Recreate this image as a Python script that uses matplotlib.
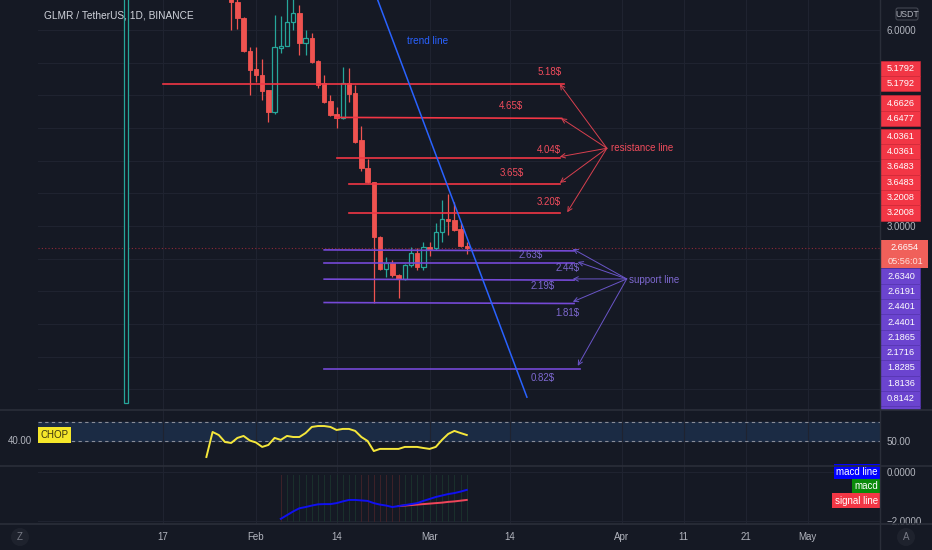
import matplotlib
matplotlib.use('Agg')
import matplotlib.pyplot as plt
from matplotlib.patches import Rectangle, Circle, FancyBboxPatch
from matplotlib.transforms import blended_transform_factory

plt.rcParams['font.family'] = ['Liberation Sans', 'DejaVu Sans']

W, H = 932, 550
BG = '#151924'
GRID = '#1f2330'
SEP = '#2a2e39'
TXT = '#b2b5be'
UP = '#26a69a'
DOWN = '#ef5350'
RES = '#f23645'
SUP = '#7549d6'

# daily candles, day index = days since 1 Jan 2022
candle_days = [10] + list(range(27, 66))
opens = [0.29, 6.80, 6.43, 6.18, 5.68, 5.40, 5.31, 5.08, 4.74, 5.73, 5.76, 6.12, 6.26, 5.80, 5.88,
         5.53, 5.19, 4.91, 4.71, 4.65, 5.19, 5.04, 4.32, 3.89, 3.67, 2.83, 2.34, 2.43, 2.25, 2.19,
         2.40, 2.59, 2.37, 2.68, 2.66, 2.91, 3.11, 3.09, 2.95, 2.69]
highs = [19.5, 7.00, 6.60, 6.20, 5.74, 5.74, 5.56, 5.08, 6.23, 6.21, 6.60, 6.55, 6.38, 6.00, 5.95,
         5.54, 5.31, 5.00, 4.82, 5.43, 5.42, 5.16, 4.53, 4.03, 3.68, 2.85, 2.52, 2.48, 2.27, 2.42,
         2.68, 2.66, 2.76, 2.76, 3.05, 3.40, 3.49, 3.37, 3.05, 2.76]
lows = [0.29, 6.00, 6.02, 5.66, 5.00, 5.20, 4.93, 4.59, 4.72, 5.65, 5.75, 6.00, 5.62, 5.62, 5.50,
        5.11, 4.89, 4.69, 4.50, 4.64, 4.90, 4.27, 3.84, 3.66, 1.82, 2.33, 2.22, 2.22, 1.90, 2.17,
        2.37, 2.33, 2.33, 2.54, 2.63, 2.76, 2.86, 2.93, 2.68, 2.57]
closes = [10.5, 6.43, 6.18, 5.68, 5.39, 5.31, 5.07, 4.74, 5.74, 5.76, 6.12, 6.26, 5.80, 5.88, 5.51,
          5.16, 4.90, 4.70, 4.65, 5.19, 5.02, 4.29, 3.89, 3.67, 2.83, 2.34, 2.43, 2.25, 2.19, 2.40,
          2.59, 2.37, 2.68, 2.65, 2.91, 3.11, 3.08, 2.94, 2.69, 2.6654]
last_price = 2.6654
countdown = '05:56:01'

# drawn horizontal lines (start day, end day, start price, end price)
res_days = [(16, 80.7), (43.8, 80.3), (44.0, 80.0), (46.0, 80.0), (46.0, 80.0)]
res_prices = [(5.1792, 5.1792), (4.6626, 4.6477), (4.0361, 4.0361), (3.6483, 3.6483), (3.2008, 3.2008)]
sup_days = [(42.0, 82.3), (42.0, 82.3), (42.0, 82.3), (42.0, 82.3), (42.0, 83.3)]
sup_prices = [(2.6340, 2.6191), (2.4401, 2.4401), (2.1865, 2.1716), (1.8285, 1.8136), (0.8142, 0.8142)]

res_labels = ['5.18$', '4.65$', '4.04$', '3.65$', '3.20$']
res_label_pos = [(78.4, 5.35), (72.2, 4.84), (78.3, 4.17), (72.2, 3.81), (78.3, 3.36)]
sup_labels = ['2.63$', '2.44$', '2.19$', '1.81$', '0.82$']
sup_label_pos = [(75.3, 2.56), (81.3, 2.35), (77.3, 2.08), (81.3, 1.67), (77.2, 0.68)]

res_note = (88.25, 4.19)
res_arrow_from = (87.6, 4.19)
res_arrow_to = [(80.0, 5.17), (80.2, 4.65), (80.0, 4.06), (80.0, 3.66), (81.2, 3.21)]
sup_note = (91.2, 2.18)
sup_arrow_from = (90.8, 2.19)
sup_arrow_to = [(82.1, 2.65), (82.9, 2.45), (82.1, 2.19), (82.1, 1.84), (82.9, 0.86)]

trend_days = [49.4, 74.7]
trend_prices = [6.77, 0.38]
trend_note = (55.3, 5.83)

# indicators
chop_days = list(range(23, 66))
chop = [39.5, 55.9, 53.9, 49.3, 48.7, 52.0, 53.3, 50.3, 49.0, 46.1, 47.4, 52.0, 50.7, 53.3, 52.6,
        52.6, 55.2, 59.2, 59.8, 59.8, 59.2, 57.2, 57.9, 57.9, 56.6, 52.6, 50.0, 43.4, 44.8, 44.8,
        44.8, 44.8, 46.1, 46.1, 46.1, 45.4, 44.8, 46.1, 50.7, 54.6, 56.6, 55.2, 53.9]
chop_bands = [50.0, 62.5]

macd_days = list(range(35, 66))
macd = [-1.91, -1.76, -1.61, -1.48, -1.43, -1.37, -1.32, -1.31, -1.31, -1.27, -1.20, -1.14, -1.14,
        -1.16, -1.18, -1.27, -1.33, -1.37, -1.43, -1.39, -1.35, -1.31, -1.27, -1.18, -1.10, -1.02,
        -0.96, -0.90, -0.86, -0.80, -0.73]
signal_days = list(range(54, 66))
signal = [-1.39, -1.37, -1.35, -1.33, -1.31, -1.29, -1.27, -1.25, -1.22, -1.20, -1.17, -1.14]
hist_side = ['r'] + ['g'] * 12 + ['r'] * 7 + ['g'] * 11

tick_days = [16, 31, 44, 59, 72, 90, 100, 110, 120]
tick_labels = ['17', 'Feb', '14', 'Mar', '14', 'Apr', '11', '21', 'May']
price_ticks = [0.5, 1.0, 1.5, 2.0, 2.5, 3.0, 3.5, 4.0, 4.5, 5.0, 5.5, 6.0]
macd_ticks = [0.0, -2.0]


def rect(l, t, r, b):
    return [l / W, 1 - b / H, (r - l) / W, (b - t) / H]


fig = plt.figure(figsize=(W / 100, H / 100), dpi=100, facecolor=BG)
ax = fig.add_axes(rect(38, 0, 880, 410))
ax_chop = fig.add_axes(rect(38, 410, 880, 466))
ax_macd = fig.add_axes(rect(38, 466, 880, 524))
xlim = (-4.16, 131.65)

for a in (ax, ax_chop, ax_macd):
    a.set_facecolor(BG)
    a.set_xlim(*xlim)
    for s in a.spines.values():
        s.set_visible(False)
    a.set_xticks(tick_days)
    a.xaxis.grid(True, color=GRID, lw=0.8)
    a.set_axisbelow(True)
    a.tick_params(axis='x', length=0, labelbottom=False)
    a.yaxis.tick_right()
    a.tick_params(axis='y', length=0, pad=5, labelsize=7, labelcolor=TXT)

# ---- main pane ----
ax.set_ylim(0.1836, 6.4594)
ppu = 410 / (ax.get_ylim()[1] - ax.get_ylim()[0])

# price scale label stacking (TradingView pushes labels away from the last price)
h = 15.3 / ppu
cur_top = last_price + 7.6 / ppu
cur_bot = last_price - 20.6 / ppu
res_boxes, sup_boxes = [], []
limit = cur_top
for p in sorted([p for pair in res_prices for p in pair]):
    c = max(p, limit + h / 2)
    limit = c + h / 2
    res_boxes.append((p, c))
limit = cur_bot
for p in sorted([p for pair in sup_prices for p in pair], reverse=True):
    c = min(p, limit - h / 2)
    limit = c - h / 2
    sup_boxes.append((p, c))
spans = [(c - h / 2, c + h / 2) for _, c in res_boxes + sup_boxes] + [(cur_bot, cur_top)]
margin = 4 / ppu


def covered(v):
    return any(lo - margin <= v <= hi + margin for lo, hi in spans)


ax.set_yticks(price_ticks, ['' if covered(v) else f'{v:.4f}' for v in price_ticks])
ax.yaxis.grid(True, color=GRID, lw=0.8)

bw = 0.7
for d, o, hi, lo, c in zip(candle_days, opens, highs, lows, closes):
    top, bot = max(o, c), min(o, c)
    if c >= o:
        ax.vlines(d, top, hi, color=UP, lw=0.9, zorder=2)
        ax.vlines(d, lo, bot, color=UP, lw=0.9, zorder=2)
        ax.add_patch(Rectangle((d - bw / 2, bot), bw, top - bot, facecolor=BG,
                               edgecolor=UP, lw=0.9, zorder=3))
    else:
        ax.vlines(d, lo, hi, color=DOWN, lw=0.9, zorder=2)
        ax.add_patch(Rectangle((d - bw / 2, bot), bw, top - bot, facecolor=DOWN,
                               edgecolor=DOWN, lw=0.6, zorder=3))

ax.axhline(last_price, color=RES, alpha=0.55, lw=0.8, ls=(0, (1, 2)), zorder=1)

for (d0, d1), (p0, p1) in zip(res_days, res_prices):
    ax.plot([d0, d1], [p0, p1], color=RES, lw=1.2, zorder=4)
for (d0, d1), (p0, p1) in zip(sup_days, sup_prices):
    ax.plot([d0, d1], [p0, p1], color=SUP, lw=1.2, zorder=4)
ax.plot(trend_days, trend_prices, color='#2962ff', lw=1.1, zorder=5)

for lab, (d, p) in zip(res_labels, res_label_pos):
    ax.text(d, p, lab, color='#f04c5c', fontsize=7, ha='center', va='center', zorder=6)
for lab, (d, p) in zip(sup_labels, sup_label_pos):
    ax.text(d, p, lab, color='#7d68cf', fontsize=7, ha='center', va='center', zorder=6)

for tgt in res_arrow_to:
    ax.annotate('', xy=tgt, xytext=res_arrow_from,
                arrowprops=dict(arrowstyle='->', color='#d8404f', lw=0.7,
                                shrinkA=0, shrinkB=0, mutation_scale=8), zorder=6)
for tgt in sup_arrow_to:
    ax.annotate('', xy=tgt, xytext=sup_arrow_from,
                arrowprops=dict(arrowstyle='->', color='#6a55c8', lw=0.7,
                                shrinkA=0, shrinkB=0, mutation_scale=8), zorder=6)
ax.text(*res_note, 'resistance line', color='#f04c5c', fontsize=7, ha='left', va='center')
ax.text(*sup_note, 'support line', color='#7d68cf', fontsize=7, ha='left', va='center')
ax.text(*trend_note, 'trend line', color='#2962ff', fontsize=7.2, ha='left', va='center')

# ---- price scale labels ----
sc = fig.add_axes(rect(880, 0, 932, 410))
sc.patch.set_visible(False)
sc.axis('off')
sc.set_xlim(0, 52)
sc.set_ylim(ax.get_ylim())
fs_box = 6.6
for p, c in res_boxes:
    sc.add_patch(Rectangle((0, c - h / 2), 40, h, facecolor=RES, edgecolor='#d92a3a', lw=0.4))
    sc.text(21, c, f'{p:.4f}', color='white', fontsize=fs_box, ha='center', va='center')
for p, c in sup_boxes:
    sc.add_patch(Rectangle((0, c - h / 2), 40, h, facecolor='#6b44cf', edgecolor='#5a36b8', lw=0.4))
    sc.text(21, c, f'{p:.4f}', color='white', fontsize=fs_box, ha='center', va='center', clip_on=True)

sc.add_patch(Rectangle((0, cur_bot), 48, cur_top - cur_bot, facecolor='#f0605a', edgecolor='none'))
sc.text(24, last_price + 0.5 / ppu, f'{last_price:.4f}', color='white', fontsize=fs_box,
        ha='center', va='center')
sc.text(25, last_price - 13.5 / ppu, countdown, color='#ffe0dc', fontsize=fs_box,
        ha='center', va='center')

# ---- CHOP pane ----
ax_chop.set_ylim(33.6, 70.3)
ax_chop.set_yticks([50], ['50.00'])
ax_chop.axhspan(chop_bands[0], chop_bands[1], color='#1b2b44', zorder=0)
for b in chop_bands:
    ax_chop.axhline(b, color='#8a8d98', lw=0.8, ls=(0, (3, 3)), zorder=1)
ax_chop.plot(chop_days, chop, color='#f5e73b', lw=1.4, zorder=3)
tr = blended_transform_factory(ax_chop.transAxes, ax_chop.transData)
ax_chop.text(2.6 / 842, 53.9, 'CHOP', transform=tr, color='#3a3410', fontsize=7, ha='left',
             va='center', bbox=dict(boxstyle='square,pad=0.28', facecolor='#f5e72a', edgecolor='none'))

# ---- MACD pane ----
ax_macd.set_ylim(-2.122, 0.245)
ax_macd.set_yticks(macd_ticks, [f'{v:.4f}'.replace('-', '\u2212') for v in macd_ticks])
ax_macd.yaxis.grid(True, color=GRID, lw=0.8)
trm = blended_transform_factory(ax_macd.transData, ax_macd.transAxes)
for d, s in zip(macd_days, hist_side):
    ax_macd.plot([d, d], [0.06, 0.84], transform=trm, lw=0.7,
                 color='#3e2229' if s == 'r' else '#1b302d', zorder=1)
ax_macd.plot(signal_days, signal, color='#f0455a', lw=1.4, zorder=2)
ax_macd.plot(macd_days, macd, color='#1010f0', lw=1.4, zorder=3)
tra = blended_transform_factory(ax_macd.transAxes, ax_macd.transAxes)
for lab, yy, col in [('macd line', 0.90, '#0000ff'), ('macd', 0.655, '#0a8a0a'), ('signal line', 0.40, '#f23645')]:
    ax_macd.text(1 - 2.2 / 842, yy, lab, transform=tra, color='white', fontsize=7, ha='right',
                 va='center', bbox=dict(boxstyle='square,pad=0.25', facecolor=col, edgecolor='none'))

ax_macd.tick_params(axis='x', labelbottom=True, pad=6, labelsize=7, labelcolor=TXT)
ax_macd.set_xticks(tick_days, tick_labels)

# ---- frame, separators, buttons ----
ov = fig.add_axes([0, 0, 1, 1])
ov.patch.set_visible(False)
ov.axis('off')
ov.set_xlim(0, W)
ov.set_ylim(H, 0)
for yy in (410, 466, 524):
    ov.plot([0, W], [yy, yy], color=SEP, lw=1.2)
ov.plot([880, 880], [0, H], color=SEP, lw=1.0)
ov.text(44, 15, 'GLMR / TetherUS, 1D, BINANCE', color='#d1d4dc', fontsize=7.3, ha='left', va='center')
ov.add_patch(FancyBboxPatch((896, 8), 22, 12, boxstyle='round,pad=0,rounding_size=2',
                            facecolor=BG, edgecolor='#434651', lw=0.8))
ov.text(907, 14.3, 'USDT', color=TXT, fontsize=6.3, ha='center', va='center')
ov.text(20, 441, '40.00', color=TXT, fontsize=7, ha='center', va='center')
for cx, lab in [(20, 'Z'), (906, 'A')]:
    ov.add_patch(Circle((cx, 537), 9, facecolor='#1e222d', edgecolor='none'))
    ov.text(cx, 537, lab, color='#787b86', fontsize=7, ha='center', va='center')

fig.savefig('out.png', dpi=100, facecolor=BG)
